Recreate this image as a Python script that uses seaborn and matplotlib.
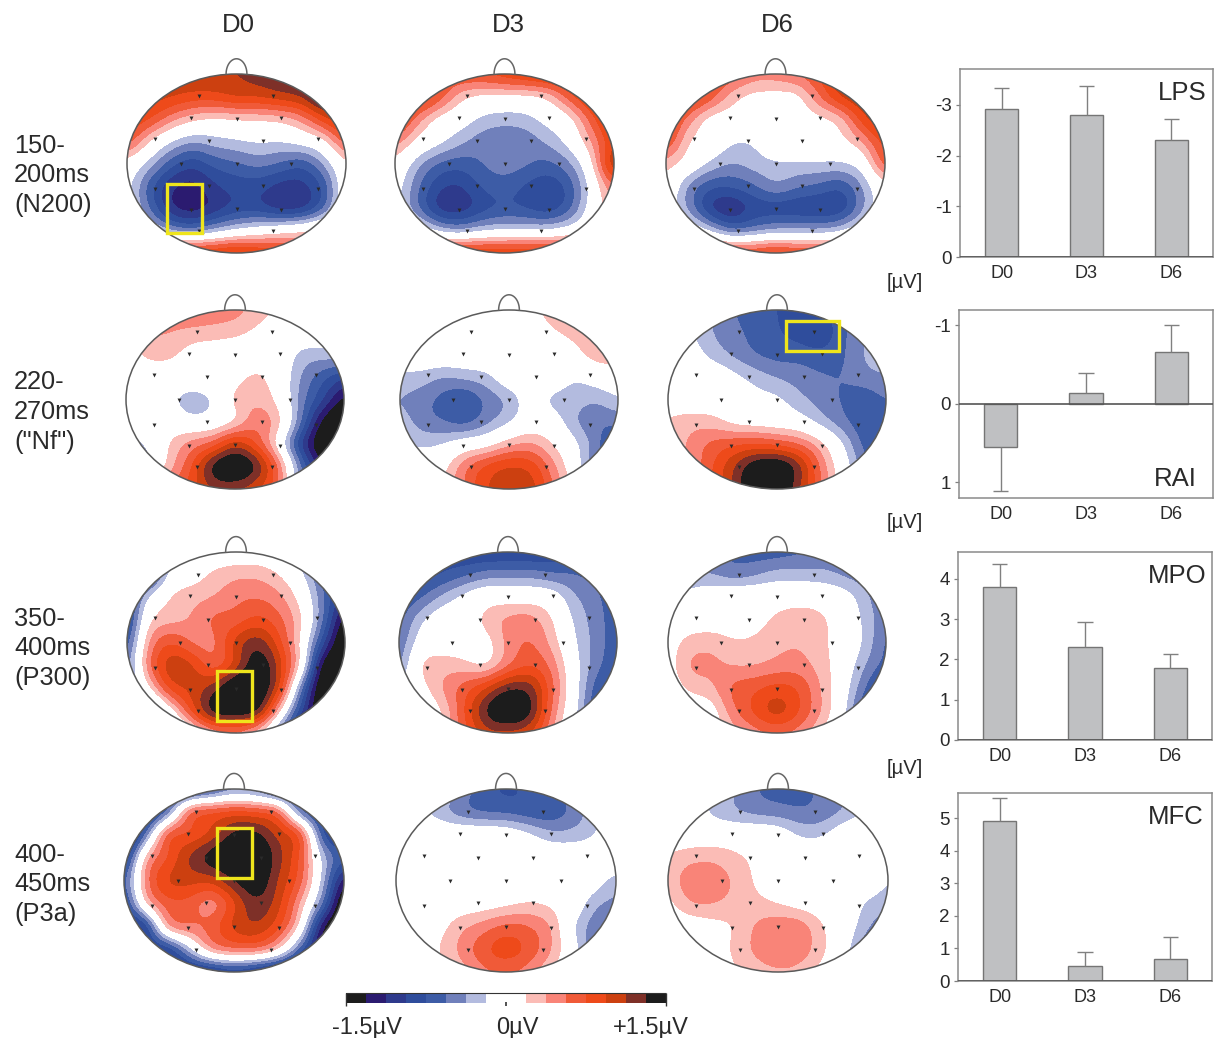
import numpy as np
import pandas as pd
import seaborn as sns
import matplotlib
matplotlib.use("Agg")
import matplotlib.pyplot as plt
from matplotlib.colors import ListedColormap
from matplotlib.patches import Ellipse, Rectangle

# ---------- data ----------
DAYS = ["D0", "D3", "D6"]
WINDOWS = [["150-", "200ms", "(N200)"], ["220-", "270ms", '("Nf")'],
           ["350-", "400ms", "(P300)"], ["400-", "450ms", "(P3a)"]]

LPS_VALUES = [-2.92, -2.80, -2.30]
LPS_TIPS = [-3.33, -3.38, -2.73]
RAI_VALUES = [0.55, -0.14, -0.66]
RAI_TIPS = [1.115, -0.39, -1.01]
MPO_VALUES = [3.80, 2.30, 1.80]
MPO_TIPS = [4.37, 2.92, 2.13]
MFC_VALUES = [4.90, 0.45, 0.68]
MFC_TIPS = [5.63, 0.90, 1.35]

ELECTRODE_X = [-.347, .337, -.42, 0, .41, -.745, -.255, .245, .74, -.51, 0, .50,
               -.745, -.255, .245, .74, -.42, 0, .41, -.347, .337]
ELECTRODE_Y = [.75, .75, .51, .50, .51, .27, .25, .25, .27, 0, 0, 0,
               -.28, -.25, -.25, -.28, -.52, -.51, -.52, -.755, -.755]

# potential fields on a coarse 9 x 11 scalp grid, in colour-step units
# (|v| < 1 white, each further unit one colour step)
N200_D0 = [[6,6,6,6,6,6,6.5,7,7.5,8,8],
           [5.5,5.5,5,4.5,4.5,5,5,5.5,6,8,8],
           [5,4,2.3,1.2,.8,1,1.1,1.3,2.3,4.5,6],
           [3.5,.9,-1,-2,-1.5,-1.2,-.9,-1,-.5,.5,3.5],
           [.3,-1.5,-3.7,-4.7,-3.7,-3.2,-2.7,-3.2,-3.7,-2,.8],
           [-.5,-3.5,-5.8,-6.4,-5.2,-4.6,-4.6,-5.4,-5.4,-3.8,.3],
           [-.5,-3,-5.8,-6.5,-5.6,-4.6,-4.6,-5.5,-5.3,-3.2,.5],
           [-.5,-.5,-2.2,-2.8,-1.8,-.9,-.3,.2,.6,1.5,2],
           [5,5,5,5,5,5.5,5,4.5,4,4,4]]
N200_D3 = [[4,4,4,4,4,4.5,5,5.5,6,6,6],
           [4,5,3.5,1.3,.6,.6,.6,1.2,3.5,5.5,6],
           [5,2.5,.5,-.3,-1.3,-1.6,-1.4,-.5,.5,3.5,6],
           [2.5,.5,-.7,-1.8,-2.6,-2.7,-2.6,-1.8,-.5,2,5],
           [.5,-1.7,-3.2,-3.6,-3,-2.5,-2.9,-3.3,-2.2,.6,6],
           [-.3,-2.8,-4.8,-5.1,-3.9,-3.5,-4.2,-4.7,-3.6,-.4,3],
           [-.5,-2.8,-5.3,-5.6,-4.4,-3.8,-4.1,-4.6,-3.3,-.2,2],
           [.3,.3,-1.5,-2,-1.3,-1,-1,-1,-.3,1,3],
           [5,5,5,5,5,5,5,5,5,5,5]]
N200_D6 = [[5,5,4.5,3.5,2.5,2.5,3,4,6,6,6],
           [5.5,5,3.5,1.4,.6,.5,.6,2.8,5,6,6],
           [5,2.5,.5,.3,.3,.3,.3,.6,1.5,4.5,6],
           [4,1,.2,-.9,-.9,.2,.3,.4,.5,2,4.5],
           [1.5,.2,-1.3,-2.1,-1.6,-1.2,-1.2,-1.2,-1.2,-.3,3.5],
           [.5,-2.2,-3.8,-3.9,-3.2,-2.2,-2.9,-3.3,-3.8,-2,.5],
           [-.2,-2.2,-5,-5.9,-4.7,-4.5,-4.7,-4.8,-4.7,-2.2,.3],
           [.3,.3,-1.3,-3,-2.5,-1.9,-1.8,-1.9,-1.3,.2,1],
           [4,4,4,4,4,4.5,4,4,4,4,4]]
NF_D0 = [[2,2,2.5,3,2.8,2.4,1.5,.8,.3,0,0],
         [.8,2,2,1.6,1.4,1.2,.7,.2,0,0,-.5],
         [.2,1.2,1.2,.4,.3,.2,.3,.2,-1.4,-1.6,-1.5],
         [.1,.2,.1,.2,.3,.5,1.2,.1,-2.1,-3.7,-5],
         [.1,.2,-.6,-1.7,-.9,1.2,1.8,.5,-2.5,-5,-7.5],
         [-1.2,-.1,.1,-.5,-.2,.9,2.7,1.3,-3,-7.5,-9],
         [-1,-1,1,2.4,3.3,5.5,3.8,.2,-5,-8.5,-9],
         [-1,-1,1.5,3.8,7.3,8.5,6.8,2.7,-3,-7,-9],
         [3,3,3,4.5,6,6,5,3,-3,-5,-5]]
NF_D3 = [[0,0,0,0,0,0,.5,1.5,2,2,2],
         [0,0,0,0,0,.1,.2,.8,1.3,2,2],
         [-.2,0,0,0,.1,.1,.1,.2,.4,1.5,1.5],
         [-1.3,-1.5,-2.1,-1.8,-1.4,-.1,0,0,-.9,-.3,.1],
         [-2,-2.6,-3.4,-4,-2.7,-1.8,-.3,-1.3,-1.6,-1.9,-1.2],
         [-1.5,-2.5,-3,-3.4,-2.3,-1.2,0,-.3,-1.9,-2.8,-2.8],
         [-.8,-1.3,-1,-.2,.3,1.6,2.1,.9,-.7,-2.7,-4.5],
         [0,0,.5,2.7,4.2,5,4.6,2.3,-.2,-3,-4.5],
         [0,0,1,3,5,5.5,5.5,3,.5,-2,-3]]
NF_D6 = [[-2,-2,-2,-3,-3.6,-4,-4.5,-4,-3.5,-3,-2.5],
         [-1,-1,-2,-2.7,-3.4,-3.9,-4.5,-5,-3.3,-2.2,-1.5],
         [.3,-.3,-1.4,-2.2,-3,-3.4,-3.4,-3.7,-3.2,-2,-1.1],
         [.3,.2,.1,-.7,-1.5,-2.1,-2.5,-2.9,-3,-2.5,-2.2],
         [.2,.1,.1,.1,-.5,-.8,-1.7,-2.5,-3.1,-3.7,-3],
         [1.1,1.5,1.4,.6,.3,.1,-.3,-1.5,-2.7,-3.8,-4],
         [1,2.2,3.2,3.7,4,3.6,2.9,1.3,-1,-3.4,-4],
         [2,2.2,3.8,5.8,7.8,8.3,6.3,2.7,-.1,-2.7,-3.2],
         [3,3,4,6,8.5,8.5,6,3,0,-2,-3]]
P300_D0 = [[-4,-4,-2,0,0,0,0,-.5,-2,-4,-5],
           [-5,-5,-.5,.3,1.2,1.7,1.7,.9,-.8,-3.5,-5],
           [-5,-1,1,1.6,2,2.7,2.9,2.2,.3,-3,-6],
           [-5,.7,1.6,2.1,3.2,3.4,4.3,3.2,1,-3.2,-8],
           [-4,2,3.9,2.8,2.7,5.3,6.6,4.2,.5,-5,-9],
           [-3,2.6,5.6,5,3.3,5.3,8,5.3,.3,-8,-9],
           [-3,.5,4.3,5.3,6.4,8.5,8.5,4.7,-3,-9,-9],
           [-3,-3,.2,4.2,7.5,8,7,1,-5,-9,-9],
           [-3,-3,-3,0,2,2.5,1,-3,-7,-9,-9]]
P300_D3 = [[-4.5,-4.5,-4.5,-5,-5,-5,-5,-4.8,-4.5,-4.5,-4.5],
           [-4.5,-4.5,-4,-3.3,-2.6,-2.5,-2.5,-2.9,-3,-3.5,-4.5],
           [-4,-3.2,-1.8,-.7,.2,.2,.2,-.2,-1.9,-2.7,-4],
           [-3.5,-1.3,-.1,0,1.3,2.2,2.4,1,-1.2,-2.5,-3.7],
           [-3,-.3,.2,.1,.4,2.3,3.1,1.6,-.8,-2.4,-3.7],
           [-2.5,1,1.5,1.3,.8,2.8,3.9,2.6,-.4,-2.6,-4],
           [-1,.4,2,3.4,4.8,6.6,6.5,3.2,-.2,-3.5,-5],
           [-1,-.5,1,3.9,7,8.7,7.3,2.7,-.4,-4,-5],
           [-1,-1,1,3.5,5.5,5.5,5,2,-1,-4,-5]]
P300_D6 = [[-2.5,-2.5,-3,-3.2,-3.5,-3.5,-3.2,-2.8,-2.3,-2.3,-2.3],
           [-2,-2,-2,-2.6,-2.2,-1.6,-1.6,-1.7,-2.2,-2.6,-3],
           [-1.5,-.5,-.1,.2,.2,.2,.2,.2,-.3,-1.7,-3],
           [0,.1,.2,.2,.5,1.2,1.7,1.2,.2,-1.3,-2.8],
           [.3,1.4,1.6,1.1,1.2,1.7,1.9,1.3,.2,-1.2,-3.3],
           [.3,2.1,2.2,1.9,1.9,2.3,2.4,1.5,.1,-2,-3.5],
           [.1,1.2,1.7,3.2,3.7,4.3,3.8,1.9,-.2,-3,-5],
           [-.1,-.1,.3,2.7,4.2,5.5,4,2,-.5,-4,-6],
           [-1,-1,0,1.5,2.5,3,2.5,1,-1,-4,-6]]
P3A_D0 = [[-5,-5,-5,-5,-4,-2.5,-3,-5,-5,-5,-6],
          [-8,-6,-3,3,3.8,4.2,3.9,3,-3,-5,-6],
          [-8,-3,3.5,4,5.2,7.3,7.3,5.5,3.8,-4,-6],
          [-6,1.5,3.9,6.1,7.6,8.5,8.5,6.3,3.8,-1.5,-4],
          [-4,2.5,5.1,5.3,5.2,6.9,8,5.8,3.4,-1.5,-7],
          [-5,1,3.5,3.5,2.3,4.7,6.8,5.3,1.8,-3,-9],
          [-6,-5,2,2.8,3.4,5.2,5.8,4.2,.5,-7,-9],
          [-6,-5,-5,-1.5,2,2.8,2.8,1,-3.5,-8,-9],
          [-6,-6,-6,-6,-6,-5,-6,-7,-8,-9,-9]]
P3A_D3 = [[0,0,-1,-2.5,-3.6,-4.2,-3.8,-3.2,-2.5,-1.5,-.5],
          [0,-.6,-1.6,-2.7,-3.2,-3.3,-3.7,-3.8,-2.8,-1.5,-.5],
          [0,.1,.1,.1,.1,-.1,-.8,-1.7,-1.7,-1.1,.1],
          [.1,.1,.1,.1,.1,.1,.1,.1,.1,.1,.1],
          [.1,.1,.1,.1,.1,.1,.1,.1,.1,-.3,-1.6],
          [.1,.1,.1,.1,.3,.6,1,.7,.1,-1.8,-2.3],
          [.1,.1,.5,1.7,2.4,3.2,3,2,-.8,-2.6,-3],
          [.1,.1,1,2.3,3.7,4.6,3.7,2.1,-.3,-3,-4],
          [0,0,.5,1.5,2.7,3,2.5,1,-.5,-3,-4]]
P3A_D6 = [[0,-.2,-1,-2,-3,-3.4,-3.3,-2.8,-2.2,-1.2,-.3],
          [0,-.3,-1.2,-1.9,-2.4,-2.6,-2.9,-2.7,-1.9,-.9,-.1],
          [.1,.1,.1,.1,.1,-.2,-1.2,-1.2,-.1,.1,.1],
          [1.1,1.6,1.7,1.2,.7,.1,.1,.1,.1,.1,.1],
          [1.3,2.6,2.7,1.8,.8,.1,.1,.1,.1,.1,-1],
          [.6,1.9,2,1.6,1.3,.9,.4,.1,.1,-1.2,-1.7],
          [0,.1,.5,1,2.1,2.6,2.5,1,-.1,-1.8,-3],
          [0,0,.1,1.2,2.2,2.8,2.6,1.2,-.4,-3,-5],
          [0,0,0,.8,1.5,1.8,1.6,.5,-1,-4,-6]]
FIELDS = [[N200_D0, N200_D3, N200_D6], [NF_D0, NF_D3, NF_D6],
          [P300_D0, P300_D3, P300_D6], [P3A_D0, P3A_D3, P3A_D6]]

# ---------- styles and layout (pixels of the 1216 x 1038 picture) ----------
W, H = 1216, 1038
COLORS = ["#1c1c1c", "#2b1b70", "#2e3a8c", "#2f4d9c", "#3d5ca6", "#7080bb", "#b3bbdf", "#ffffff",
          "#fbbcb6", "#f98478", "#f05a38", "#ee4a1a", "#cc4010", "#7e3028", "#1c1c1c"]
LEVELS = [-99, -7, -6, -5, -4, -3, -2, -1, 1, 2, 3, 4, 5, 6, 7, 99]
HEAD_BOXES = [[(127, 346, 74, 253), (395, 614, 74, 253), (666, 885, 74, 253)],
              [(126, 344, 310, 489), (400, 618, 310, 489), (668, 886, 310, 489)],
              [(127, 345, 552, 733), (399, 617, 552, 733), (668, 886, 552, 733)],
              [(124, 344, 789, 972), (396, 616, 789, 972), (668, 888, 789, 972)]]
HIGHLIGHTS = [(167, 184, 35, 49), (786, 321, 53, 30), (217, 671, 35, 50), (217, 828, 35, 50)]
LABEL_ROWS = [(146, 175, 205), (382, 412, 442), (619, 648, 678), (855, 884, 914)]
FONT = ["Liberation Sans", "DejaVu Sans"]
GREY = "#808080"

sns.set_theme(style="white")
plt.rcParams["font.family"] = FONT
plt.rcParams["axes.unicode_minus"] = False
plt.rcParams["text.color"] = "#2a2a2a"

fig = plt.figure(figsize=(W / 100, H / 100), dpi=100, facecolor="white")


def px_axes(left, right, top, bottom, **kw):
    return fig.add_axes([left / W, 1 - bottom / H, (right - left) / W, (bottom - top) / H], **kw)


def smooth_1d(a, n, axis):
    a = np.moveaxis(np.asarray(a, float), axis, 0)
    m = a.shape[0]
    t = np.linspace(0, m - 1, n)
    i = np.clip(np.floor(t).astype(int), 0, m - 2)
    f = (t - i).reshape((-1,) + (1,) * (a.ndim - 1))
    p0, p1 = a[np.clip(i - 1, 0, m - 1)], a[i]
    p2, p3 = a[i + 1], a[np.clip(i + 2, 0, m - 1)]
    out = 0.5 * (2 * p1 + (p2 - p0) * f + (2 * p0 - 5 * p1 + 4 * p2 - p3) * f ** 2
                 + (3 * p1 - p0 - 3 * p2 + p3) * f ** 3)
    return np.moveaxis(out, 0, axis)


def blur(z, sigma):
    r = int(3 * sigma)
    k = np.exp(-0.5 * (np.arange(-r, r + 1) / sigma) ** 2)
    k /= k.sum()
    z = np.pad(z, r, mode="edge")
    z = np.apply_along_axis(lambda v: np.convolve(v, k, mode="same"), 0, z)
    z = np.apply_along_axis(lambda v: np.convolve(v, k, mode="same"), 1, z)
    return z[r:-r, r:-r]


def draw_head(box, field):
    ax = px_axes(box[0], box[1], box[2], box[3])
    ax.set_xlim(-1, 1)
    ax.set_ylim(-1, 1)
    ax.axis("off")
    z = blur(smooth_1d(smooth_1d(field, 300, 0), 300, 1), 9)
    xs = np.linspace(-1, 1, 300)
    ys = np.linspace(1, -1, 300)
    cs = ax.contourf(xs, ys, z, levels=LEVELS, colors=COLORS)
    cs.set_edgecolor("face")
    cs.set_linewidth(0.5)
    clip = Ellipse((0, 0), 2, 2, transform=ax.transData, facecolor="none", edgecolor="none")
    ax.add_patch(clip)
    cs.set_clip_path(clip)
    ax.add_patch(Ellipse((0, 0), 2, 2, facecolor="none", edgecolor="#5a5a5a", lw=1.1, clip_on=False))
    th = np.linspace(0, np.pi, 60)
    ax.plot(0.095 * np.cos(th), 1.0 + 0.17 * np.sin(th), color="#666666", lw=1.1, clip_on=False)
    ax.scatter(ELECTRODE_X, ELECTRODE_Y, s=8, color="#2a2a2a", marker="v", linewidths=0, zorder=5)


def draw_bars(box, values, tips, ylim, ticks):
    ax = px_axes(*box)
    df = pd.DataFrame({"day": DAYS, "value": values})
    sns.barplot(data=df, x="day", y="value", ax=ax, color="#bfc0c2", saturation=1, width=0.39,
                edgecolor="#757575", linewidth=1.0, errorbar=None)
    pos = np.arange(3)
    vals, tp = np.array(values), np.array(tips)
    ax.vlines(pos, vals, tp, color=GREY, lw=1.0, zorder=1)
    ax.hlines(tp, pos - 0.09, pos + 0.09, color=GREY, lw=1.0, zorder=1)
    ax.set_xlim(-0.49, 2.49)
    ax.set_ylim(*ylim)
    ax.set_yticks(ticks)
    ax.set_yticklabels([str(t) for t in ticks], fontsize=13.5, color="#2a2a2a")
    ax.tick_params(axis="y", length=3, width=0.9, color=GREY, pad=3, left=True)
    ax.tick_params(axis="x", length=0, pad=5.5, labelsize=13, labelcolor="#2a2a2a")
    ax.set_xlabel("")
    ax.set_ylabel("")
    for s in ax.spines.values():
        s.set_color("#8a8a8a")
        s.set_linewidth(1.1)
    ax.axhline(0, color="#555555", lw=1.2, zorder=4)
    return ax


for boxes, fields in zip(HEAD_BOXES, FIELDS):
    for box, field in zip(boxes, fields):
        draw_head(box, field)

draw_bars((960, 1213, 69, 257), LPS_VALUES, LPS_TIPS, (0, -3.71), [0, -1, -2, -3])
draw_bars((959, 1213, 310, 498), RAI_VALUES, RAI_TIPS, (1.204, -1.196), [1, 0, -1])
draw_bars((958, 1212, 552, 740), MPO_VALUES, MPO_TIPS, (0, 4.67), [0, 1, 2, 3, 4])
draw_bars((958, 1212, 793, 981), MFC_VALUES, MFC_TIPS, (0, 5.77), [0, 1, 2, 3, 4, 5])

# colour bar
bar = px_axes(346, 666, 993, 1003)
bar.pcolormesh(np.arange(17), [0, 1], [list(range(7)) + [7, 7] + list(range(8, 15))],
               cmap=ListedColormap(COLORS), vmin=-0.5, vmax=14.5)
bar.axis("off")

# overlay for annotation text, highlight boxes and bar ends
ov = fig.add_axes([0, 0, 1, 1], zorder=20)
ov.set_xlim(0, W)
ov.set_ylim(H, 0)
ov.axis("off")
ov.patch.set_alpha(0)
for x, y, w, h in HIGHLIGHTS:
    ov.add_patch(Rectangle((x, y), w, h, fill=False, edgecolor="#efe51c", lw=2.4, zorder=30))
for x, d in zip((238, 508, 777), DAYS):
    ov.text(x, 25, d, ha="center", va="center", fontsize=18.5)
for lines, ys in zip(WINDOWS, LABEL_ROWS):
    for s, y in zip(lines, ys):
        ov.text(14, y, s, ha="left", va="center", fontsize=18.3)
for y in (282, 523, 769):
    ov.text(905, y, "[µV]", ha="center", va="center", fontsize=14.5)
ov.text(1207, 93, "LPS", ha="right", va="center", fontsize=18.5)
ov.text(1197, 479, "RAI", ha="right", va="center", fontsize=18.5)
ov.text(1207, 576, "MPO", ha="right", va="center", fontsize=18.5)
ov.text(1204, 817, "MFC", ha="right", va="center", fontsize=18.5)
for x, s in zip((367, 517, 651), ("-1.5µV", "0µV", "+1.5µV")):
    ov.text(x, 1028, s, ha="center", va="center", fontsize=17)
ov.vlines([346, 666], 993, 1006, color="#333333", lw=1.0)
ov.hlines(993, 346, 666, color="#333333", lw=0.8)
ov.vlines([506], 1002, 1006, color="#333333", lw=1.2)

fig.savefig("out.png", dpi=100, facecolor="white")
